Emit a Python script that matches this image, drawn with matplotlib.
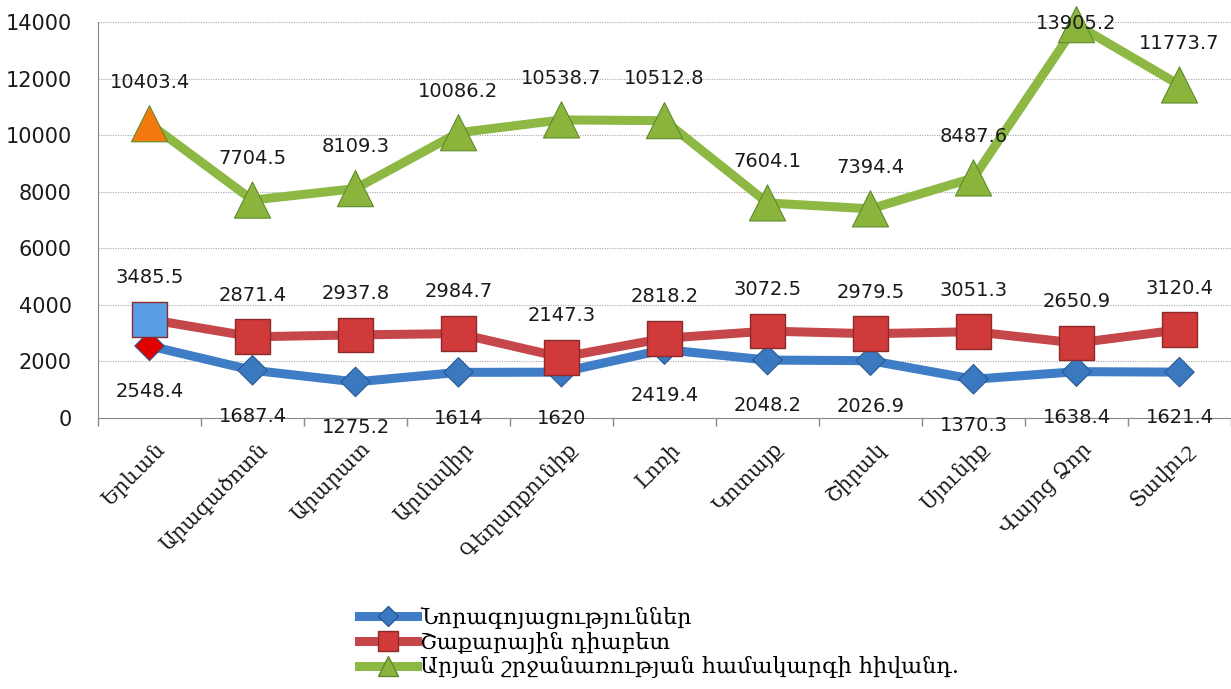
import numpy as np
import matplotlib
matplotlib.use("Agg")
import matplotlib.pyplot as plt
import matplotlib.transforms as mtransforms

# regions
regions = ["Երևան", "Արագածոտն", "Արարատ", "Արմավիր", "Գեղարքունիք", "Լոռի",
           "Կոտայք", "Շիրակ", "Սյունիք", "Վայոց Ձոր", "Տավուշ"]

neoplasms = [2548.4, 1687.4, 1275.2, 1614, 1620, 2419.4, 2048.2, 2026.9, 1370.3, 1638.4, 1621.4]
diabetes = [3485.5, 2871.4, 2937.8, 2984.7, 2147.3, 2818.2, 3072.5, 2979.5, 3051.3, 2650.9, 3120.4]
circulatory = [10403.4, 7704.5, 8109.3, 10086.2, 10538.7, 10512.8, 7604.1, 7394.4, 8487.6, 13905.2, 11773.7]

series_names = ["Նորագոյացություններ", "Շաքարային դիաբետ",
                "Արյան շրջանառության համակարգի հիվանդ."]

yticks = [0, 2000, 4000, 6000, 8000, 10000, 12000, 14000]

# colours (first point of each series is coloured differently)
blue_line, blue_face, blue_edge, blue_first = "#3f7dc6", "#3a78c0", "#2a5a94", "#e00000"
red_line, red_face, red_edge, red_first = "#c6474a", "#d03a3a", "#8c2a2a", "#5a9ee6"
green_line, green_face, green_edge, green_first = "#8db843", "#8ab43c", "#5f8a2a", "#f47a10"

armen = ["DejaVu Serif", "DejaVu Sans"]

fig = plt.figure(figsize=(12.31, 6.89), dpi=100)
ax = fig.add_axes([98 / 1231, 271 / 689, 1133 / 1231, 396 / 689])

x = np.arange(len(regions))
lw = 6.5

ax.plot(x, neoplasms, color=blue_line, lw=lw, solid_capstyle="round", zorder=3)
ax.scatter(x, neoplasms, marker="D", s=15 ** 2, c=[blue_first] + [blue_face] * (len(x) - 1),
           edgecolors=blue_edge, linewidths=0.8, zorder=4, clip_on=False)

ax.plot(x, diabetes, color=red_line, lw=lw, solid_capstyle="round", zorder=5)
ax.scatter(x, diabetes, marker="s", s=25 ** 2, c=[red_first] + [red_face] * (len(x) - 1),
           edgecolors=red_edge, linewidths=1.0, zorder=6, clip_on=False)

ax.plot(x, circulatory, color=green_line, lw=lw, solid_capstyle="round", zorder=7)
ax.scatter(x, circulatory, marker="^", s=26 ** 2, c=[green_first] + [green_face] * (len(x) - 1),
           edgecolors=green_edge, linewidths=0.8, zorder=8, clip_on=False)

lab_font = dict(fontsize=14, color="#1a1a1a", ha="center", va="center", zorder=10,
                annotation_clip=False)
for xi, v in zip(x, neoplasms):
    ax.annotate(f"{v:g}", (xi, v), xytext=(0, -33), textcoords="offset points", **lab_font)
for xi, v in zip(x, diabetes):
    ax.annotate(f"{v:g}", (xi, v), xytext=(0, 30), textcoords="offset points", **lab_font)
for xi, v in zip(x, circulatory):
    # labels that would leave the chart are kept inside, on the marker
    dy = 30 if v < 12500 else 1
    ax.annotate(f"{v:g}", (xi, v), xytext=(0, dy), textcoords="offset points", **lab_font)

ax.set_xlim(-0.5, len(regions) - 0.5)
ax.set_ylim(0, 14000)
ax.set_yticks(yticks)
ax.set_yticklabels([str(t) for t in yticks], fontsize=15, color="#1a1a1a")
ax.tick_params(axis="y", length=0, pad=19)

ax.set_xticks(x)
ax.set_xticklabels(regions, rotation=45, ha="right", va="center", rotation_mode="anchor",
                   fontsize=15, family=armen, color="#1a1a1a")
ax.tick_params(axis="x", which="major", length=0, pad=0)
ax.set_xticks(np.arange(-0.5, len(regions)), minor=True)
ax.tick_params(axis="x", which="minor", length=6, color="#888888", width=1)
shift = mtransforms.ScaledTranslation(12 / 100, -28 / 100, fig.dpi_scale_trans)
for lbl in ax.get_xticklabels():
    lbl.set_transform(lbl.get_transform() + shift)

ax.grid(axis="y", linestyle=(0, (1, 1.2)), color="#a8a8a8", lw=0.8, zorder=0)
for s in ["top", "right"]:
    ax.spines[s].set_visible(False)
ax.spines["left"].set_color("#888888")
ax.spines["bottom"].set_color("#888888")

# legend handles
h1, = ax.plot([], [], color=blue_line, lw=lw, marker="D", ms=10, mfc=blue_face, mec=blue_edge)
h2, = ax.plot([], [], color=red_line, lw=lw, marker="s", ms=14, mfc=red_face, mec=red_edge)
h3, = ax.plot([], [], color=green_line, lw=lw, marker="^", ms=15, mfc=green_face, mec=green_edge)
fig.legend([h1, h2, h3], series_names, loc="upper left", bbox_to_anchor=(348 / 1231, 1 - 596 / 689),
           frameon=False, numpoints=1, handlelength=2.6, handletextpad=0.15, labelspacing=0.12,
           borderpad=0, prop={"family": armen, "size": 16})

fig.savefig("out.png", dpi=100)
